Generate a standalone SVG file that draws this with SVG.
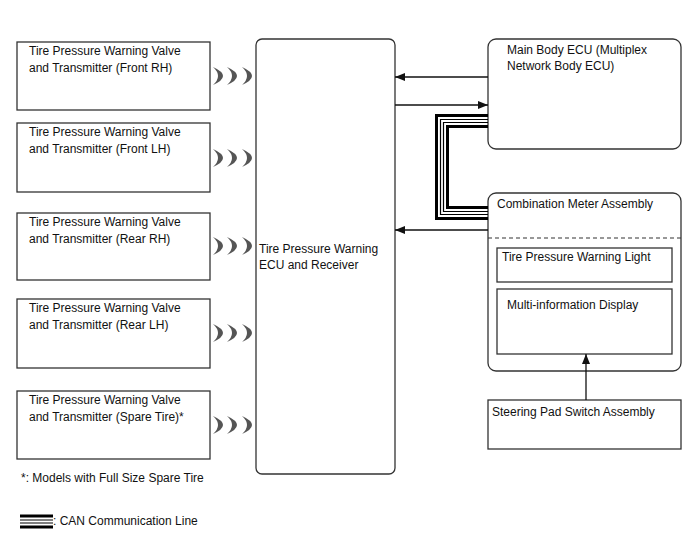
<svg xmlns="http://www.w3.org/2000/svg" width="688" height="560" viewBox="0 0 688 560">
<style>
text{font-family:"Liberation Sans",Arial,sans-serif;font-size:12px;fill:#111}
.box{fill:#fff;stroke:#333;stroke-width:1.3}
.ln{fill:none;stroke:#111;stroke-width:1.3}
.can{fill:none;stroke:#000}
.wave{fill:#555}
</style>
<defs>
<marker id="ah" viewBox="0 0 10 8" refX="10" refY="4" markerWidth="10" markerHeight="8" markerUnits="userSpaceOnUse" orient="auto">
<path d="M0,0 L10,4 L0,8 Z" fill="#111"/>
</marker>
<path id="cr" d="M0,-9 Q20,0 0,9 Q10,0 0,-9 Z"/>
<g id="waves" class="wave">
<use href="#cr" x="213"/>
<use href="#cr" x="227"/>
<use href="#cr" x="242"/>
</g>
</defs>
<rect width="688" height="560" fill="#fff"/>

<g id="tx-front-rh">
<rect class="box" x="17" y="42" width="193" height="68"/>
<text x="29" y="55">Tire Pressure Warning Valve</text>
<text x="29" y="72">and Transmitter (Front RH)</text>
<use href="#waves" y="76"/>
</g>
<g id="tx-front-lh">
<rect class="box" x="17" y="123" width="193" height="69"/>
<text x="29" y="136">Tire Pressure Warning Valve</text>
<text x="29" y="153">and Transmitter (Front LH)</text>
<use href="#waves" y="158"/>
</g>
<g id="tx-rear-rh">
<rect class="box" x="17" y="213" width="193" height="67"/>
<text x="29" y="226">Tire Pressure Warning Valve</text>
<text x="29" y="243">and Transmitter (Rear RH)</text>
<use href="#waves" y="246"/>
</g>
<g id="tx-rear-lh">
<rect class="box" x="17" y="299" width="193" height="69"/>
<text x="29" y="312">Tire Pressure Warning Valve</text>
<text x="29" y="329">and Transmitter (Rear LH)</text>
<use href="#waves" y="333"/>
</g>
<g id="tx-spare">
<rect class="box" x="17" y="391" width="193" height="68"/>
<text x="29" y="404">Tire Pressure Warning Valve</text>
<text x="29" y="421">and Transmitter (Spare Tire)*</text>
<use href="#waves" y="425"/>
</g>

<g id="ecu">
<rect class="box" x="256" y="39" width="139" height="435" rx="6"/>
<text x="259" y="253">Tire Pressure Warning</text>
<text x="259" y="269">ECU and Receiver</text>
</g>

<g id="main-body-ecu">
<rect class="box" x="488" y="39" width="193" height="110" rx="8"/>
<text x="507" y="54">Main Body ECU (Multiplex</text>
<text x="507" y="70">Network Body ECU)</text>
</g>

<g id="combination-meter">
<rect class="box" x="488" y="193" width="193" height="178" rx="8"/>
<text x="497" y="208">Combination Meter Assembly</text>
<line x1="488" y1="238" x2="681" y2="238" stroke="#333" stroke-width="1.2" stroke-dasharray="4 3"/>
</g>
<g id="warning-light">
<rect class="box" x="497" y="248" width="175" height="34"/>
<text x="502" y="261">Tire Pressure Warning Light</text>
</g>
<g id="multi-display">
<rect class="box" x="497" y="289" width="175" height="65"/>
<text x="507" y="309">Multi-information Display</text>
</g>

<g id="steering-pad">
<rect class="box" x="488" y="400" width="193" height="49"/>
<text x="492" y="416">Steering Pad Switch Assembly</text>
</g>

<g id="connectors">
<line class="ln" x1="488" y1="77" x2="395" y2="77" marker-end="url(#ah)"/>
<line class="ln" x1="395" y1="105" x2="488" y2="105" marker-end="url(#ah)"/>
<line class="ln" x1="488" y1="230" x2="395" y2="230" marker-end="url(#ah)"/>
<line class="ln" x1="586" y1="400" x2="586" y2="354" marker-end="url(#ah)"/>
<path class="can" stroke-width="3" d="M488,115.5 H436.5 V218.5 H488"/>
<path class="can" stroke-width="1.2" d="M488,119.5 H440.5 V214.5 H488"/>
<path class="can" stroke-width="1.2" d="M488,122.5 H443.5 V211.5 H488"/>
<path class="can" stroke-width="3" d="M488,126.5 H447.5 V207.5 H488"/>
</g>

<g id="legend">
<text x="21" y="482">*: Models with Full Size Spare Tire</text>
<line x1="20" y1="516" x2="53" y2="516" stroke="#000" stroke-width="3"/>
<line x1="20" y1="520" x2="53" y2="520" stroke="#000" stroke-width="1.2"/>
<line x1="20" y1="523" x2="53" y2="523" stroke="#000" stroke-width="1.2"/>
<line x1="20" y1="527" x2="53" y2="527" stroke="#000" stroke-width="3"/>
<text x="53" y="525">: CAN Communication Line</text>
</g>
</svg>
